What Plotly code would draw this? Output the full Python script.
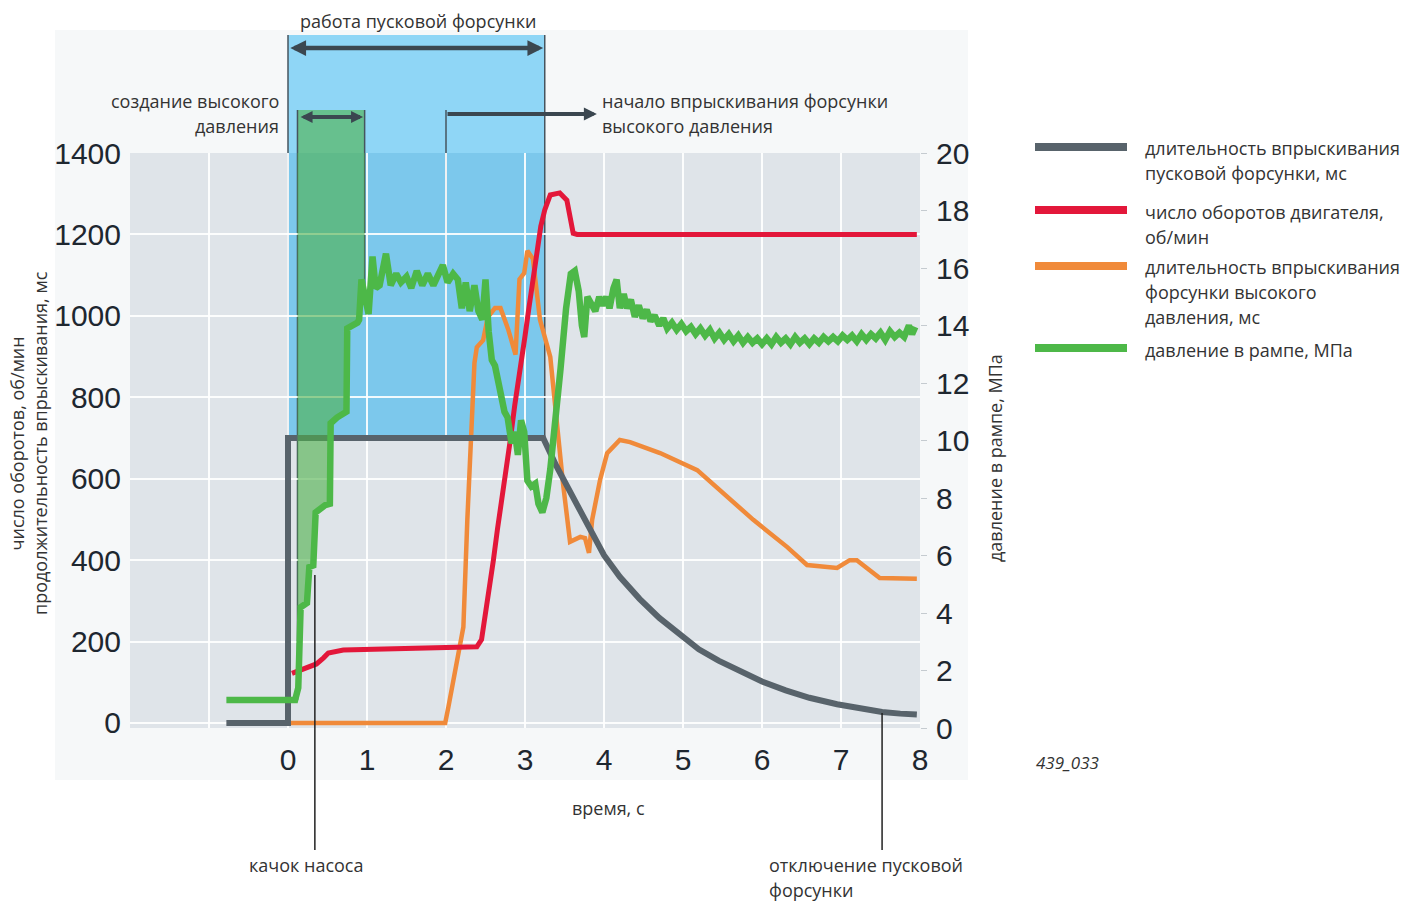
import plotly.graph_objects as go

# ---------------- data ----------------
# starter injector injection duration (left axis)
gray_t = [-0.78, 0.0, 0.0, 3.23, 3.40, 3.60, 3.80, 4.00, 4.20, 4.45, 4.70, 4.95, 5.20, 5.45,
          5.70, 6.00, 6.30, 6.60, 6.95, 7.25, 7.52, 7.75, 7.96]
gray_v = [0, 0, 700, 700, 630, 556, 480, 412, 359, 305, 258, 218, 181, 153,
          128, 102, 80, 62, 46, 35, 27, 23, 21]

# engine speed, rpm (left axis)
red_t = [0.05, 0.36, 0.45, 0.51, 0.70, 1.42, 2.01, 2.39, 2.45, 2.50, 2.56, 2.60, 2.65, 2.70,
         2.76, 2.81, 2.87, 2.94, 3.00, 3.05, 3.10, 3.15, 3.20, 3.25, 3.32, 3.44, 3.53, 3.61,
         3.66, 7.96]
red_v = [122, 145, 160, 172, 179, 182, 185, 187, 205, 270, 334, 400, 474, 540,
         610, 690, 780, 865, 950, 1020, 1090, 1160, 1220, 1260, 1297, 1302, 1284, 1203,
         1200, 1200]

# high pressure injector injection duration (left axis)
orange_t = [0.02, 1.99, 2.03, 2.09, 2.15, 2.22, 2.27, 2.33, 2.36, 2.39, 2.47, 2.53, 2.62, 2.69,
            2.79, 2.88, 2.93, 2.99, 3.03, 3.10, 3.19, 3.32, 3.40, 3.48, 3.57, 3.70, 3.76, 3.81,
            3.85, 3.95, 4.04, 4.20, 4.33, 4.71, 5.18, 5.47, 5.89, 6.32, 6.57, 6.95, 7.11, 7.20,
            7.49, 7.96]
orange_v = [0, 0, 39, 106, 172, 236, 499, 744, 884, 923, 940, 997, 1019, 1019,
            965, 905, 1090, 1105, 1160, 1140, 990, 899, 744, 590, 445, 457, 454, 418,
            499, 597, 663, 695, 690, 663, 621, 572, 499, 432, 388, 381, 400, 400,
            356, 354]

# rail pressure, MPa (right axis): (time s, pressure MPa)
green_points = [
    (-0.78, 0.97), (0.09, 0.97), (0.13, 1.4), (0.145, 2.5), (0.16, 4.2), (0.24, 4.35), (0.27, 5.6),
    (0.32, 5.65), (0.35, 7.5), (0.47, 7.75), (0.53, 7.8), (0.54, 10.6), (0.62, 10.8), (0.74, 11.0),
    (0.75, 13.9), (0.88, 14.1), (0.90, 14.2), (0.93, 15.6), (0.96, 15.2), (0.99, 14.6), (1.02, 14.4),
    (1.07, 16.4), (1.11, 15.3), (1.16, 15.4), (1.24, 16.5), (1.30, 15.4), (1.37, 15.8), (1.43, 15.5),
    (1.50, 15.7), (1.56, 15.3), (1.63, 15.9), (1.70, 15.4), (1.77, 15.8), (1.84, 15.4), (1.90, 15.7),
    (1.96, 16.1), (2.02, 15.5), (2.09, 15.8), (2.15, 15.6), (2.20, 14.6), (2.25, 15.5), (2.30, 14.5),
    (2.36, 15.4), (2.41, 14.5), (2.46, 14.2), (2.50, 15.6), (2.54, 13.8), (2.58, 12.8), (2.62, 12.6),
    (2.66, 12.0), (2.70, 11.4), (2.74, 11.0), (2.78, 10.8), (2.83, 9.9), (2.87, 10.3), (2.91, 9.5),
    (2.95, 10.7), (2.99, 10.3), (3.03, 8.6), (3.08, 8.4), (3.13, 8.5), (3.17, 7.8), (3.22, 7.5),
    (3.27, 8.0), (3.32, 9.0), (3.38, 10.5), (3.45, 12.5), (3.52, 14.6), (3.58, 15.8), (3.63, 15.9),
    (3.68, 15.2), (3.72, 14.0), (3.75, 13.6), (3.79, 15.0), (3.84, 14.7), (3.89, 14.5), (3.94, 15.0),
    (3.98, 14.7), (4.03, 15.0), (4.07, 14.6), (4.12, 15.3), (4.16, 15.6), (4.20, 14.6), (4.25, 15.1),
    (4.29, 14.6), (4.34, 14.9), (4.39, 14.3), (4.44, 14.7), (4.49, 14.25), (4.54, 14.55),
    (4.59, 14.15), (4.64, 14.35), (4.70, 14.0), (4.75, 14.25), (4.80, 13.9), (4.86, 14.1),
    (4.92, 13.85), (4.98, 14.05), (5.04, 13.8), (5.10, 13.95), (5.16, 13.7), (5.22, 13.9),
    (5.28, 13.65), (5.34, 13.85), (5.40, 13.55), (5.46, 13.75), (5.52, 13.5), (5.58, 13.7),
    (5.64, 13.45), (5.70, 13.65), (5.76, 13.4), (5.82, 13.6), (5.88, 13.4), (5.94, 13.55),
    (6.00, 13.35), (6.06, 13.55), (6.12, 13.35), (6.18, 13.6), (6.24, 13.4), (6.30, 13.55),
    (6.36, 13.35), (6.42, 13.6), (6.48, 13.4), (6.54, 13.55), (6.60, 13.35), (6.66, 13.55),
    (6.72, 13.4), (6.78, 13.6), (6.84, 13.45), (6.90, 13.6), (6.96, 13.45), (7.02, 13.65),
    (7.08, 13.5), (7.14, 13.65), (7.20, 13.45), (7.26, 13.7), (7.32, 13.5), (7.38, 13.7),
    (7.44, 13.55), (7.50, 13.75), (7.56, 13.5), (7.62, 13.8), (7.68, 13.6), (7.74, 13.75),
    (7.80, 13.6), (7.86, 14.0), (7.90, 13.7), (7.94, 13.95),
]
green_t = [p[0] for p in green_points]
green_v = [p[1] for p in green_points]

x_ticks = [-1, 0, 1, 2, 3, 4, 5, 6, 7, 8]
x_ticktext = ["", "0", "1", "2", "3", "4", "5", "6", "7", "8"]
y_ticks = [0, 200, 400, 600, 800, 1000, 1200, 1400]
y2_ticks = [0, 2, 4, 6, 8, 10, 12, 14, 16, 18, 20]

legend_names = [
    ["длительность впрыскивания", "пусковой форсунки, мс"],
    ["число оборотов двигателя,", "об/мин"],
    ["длительность впрыскивания", "форсунки высокого", "давления, мс"],
    ["давление в рампе, МПа"],
]

# phases (seconds)
starter_on, starter_off = 0.0, 3.25
pressure_build = (0.12, 0.97)
hp_start = 2.0
pump_mark = 0.34
starter_cut = 7.52

# ---------------- styling / geometry ----------------
W, H = 1416, 902
L, R, T, B = 130, 920, 153, 728
Y_MIN, Y_MAX = -12.3, 1400

C_GRAY = "#58636b"
C_RED = "#e3173a"
C_ORANGE = "#f08a3a"
C_GREEN = "#4db848"
C_DARK = "#3b4750"
TXT = "#333333"
FONT = "Open Sans"
NUMFONT = "Liberation Sans, Arial"
NUMCOL = "#1e2730"


def X(px):
    return (px - L) / (R - L)


def Y(py):
    return (B - py) / (B - T)


def YV(v):
    return (v - Y_MIN) / (Y_MAX - Y_MIN)


fig = go.Figure()

# green "pressure build-up" area, bounded on the right by the pressure trace
pump_pts = [(t, v) for t, v in green_points if 0.16 <= t <= 0.96]
poly_t = [pressure_build[0], pressure_build[1], pressure_build[1]] + [p[0] for p in reversed(pump_pts)] + [pressure_build[0]]
poly_v = [20, 20, 15.2] + [p[1] for p in reversed(pump_pts)] + [pump_pts[0][1]]
fig.add_trace(go.Scatter(x=poly_t, y=poly_v, yaxis="y2", fill="toself", mode="lines",
                         line=dict(width=0), fillcolor="rgba(77,176,74,0.6)",
                         hoverinfo="skip", showlegend=False))

fig.add_trace(go.Scatter(x=green_t, y=green_v, yaxis="y2", mode="lines", name="давление в рампе, МПа",
                         line=dict(color=C_GREEN, width=6.5), showlegend=False))
fig.add_trace(go.Scatter(x=orange_t, y=orange_v, mode="lines",
                         name="длительность впрыскивания форсунки высокого давления, мс",
                         line=dict(color=C_ORANGE, width=4.5), showlegend=False))
fig.add_trace(go.Scatter(x=gray_t, y=gray_v, mode="lines",
                         name="длительность впрыскивания пусковой форсунки, мс",
                         line=dict(color=C_GRAY, width=6), showlegend=False))
fig.add_trace(go.Scatter(x=red_t, y=red_v, mode="lines", name="число оборотов двигателя, об/мин",
                         line=dict(color=C_RED, width=5), showlegend=False))

shapes = []
# outer light panel and plot background
shapes.append(dict(type="rect", xref="paper", yref="paper", x0=X(55), x1=X(968), y0=Y(780), y1=Y(30),
                   fillcolor="#f6f8f9", line=dict(width=0), layer="below"))
shapes.append(dict(type="rect", xref="paper", yref="paper", x0=0, x1=1, y0=0, y1=1,
                   fillcolor="#dfe4e9", line=dict(width=0), layer="below"))
# starter injector working window (blue)
shapes.append(dict(type="rect", xref="x", yref="paper", x0=starter_on, x1=starter_off, y0=1, y1=Y(35),
                   fillcolor="#8fd6f6", line=dict(width=0), layer="below"))
shapes.append(dict(type="rect", xref="x", yref="paper", x0=starter_on, x1=starter_off, y0=YV(700), y1=1,
                   fillcolor="#7cc8ec", line=dict(width=0), layer="below"))
# pressure build-up window above plot top
shapes.append(dict(type="rect", xref="x", yref="paper", x0=pressure_build[0], x1=pressure_build[1],
                   y0=1, y1=Y(110), fillcolor="rgba(77,176,74,0.6)", line=dict(width=0), layer="below"))
# thin border lines
thin = dict(color="#46545e", width=1.5)
for xv, y0, y1 in [(starter_on, YV(700), Y(35)), (starter_off, YV(700), Y(35)),
                   (pressure_build[0], Y(700), Y(110)), (pressure_build[1], Y(290), Y(110)),
                   (hp_start, Y(723), Y(110))]:
    shapes.append(dict(type="line", xref="x", yref="paper", x0=xv, x1=xv, y0=y0, y1=y1,
                       line=thin, layer="below"))
# callout lines
for xv, y0, y1 in [(pump_mark, Y(850), Y(575)), (starter_cut, Y(850), Y(713))]:
    shapes.append(dict(type="line", xref="x", yref="paper", x0=xv, x1=xv, y0=y0, y1=y1,
                       line=dict(color="#222222", width=1.5)))

# legend bars
leg_colors = [C_GRAY, C_RED, C_ORANGE, C_GREEN]
leg_bar_y = [147, 210, 266, 348]
leg_text_y = [148, 212, 267, 350]
for c, by in zip(leg_colors, leg_bar_y):
    shapes.append(dict(type="line", xref="paper", yref="paper", x0=X(1035), x1=X(1127), y0=Y(by), y1=Y(by),
                       line=dict(color=c, width=8)))

ann = []


def text(s, px, py, anchor="center", size=18, angle=0):
    ann.append(dict(text=s, xref="paper", yref="paper", x=X(px), y=Y(py), xanchor=anchor, yanchor="middle",
                    showarrow=False, textangle=angle, font=dict(family=FONT, size=size, color=TXT)))


for lines, ty in zip(legend_names, leg_text_y):
    for i, ln in enumerate(lines):
        text(ln, 1143, ty + 25 * i, anchor="left")

text("работа пусковой форсунки", 418, 21)
text("создание высокого", 281, 101, anchor="right")
text("давления", 281, 126, anchor="right")
text("начало впрыскивания форсунки", 600, 101, anchor="left")
text("высокого давления", 600, 126, anchor="left")
text("время, с", 608, 808)
text("качок насоса", 306, 865)
text("отключение пусковой", 767, 865, anchor="left")
text("форсунки", 767, 890, anchor="left")
text("<i>439_033</i>", 1034, 762, anchor="left", size=17)
text("число оборотов, об/мин<br>продолжительность впрыскивания, мс", 28, 443, angle=-90)
text("давление в рампе, МПа", 995, 458, angle=-90)


def arrow(x_tip, x_tail, py, both, w, size):
    ann.append(dict(text="", x=x_tip, y=Y(py), xref="x", yref="paper", ax=x_tail, ay=0,
                    axref="x", ayref="pixel", showarrow=True, arrowhead=2, arrowsize=size,
                    arrowwidth=w, arrowcolor=C_DARK, arrowside="end+start" if both else "end",
                    startarrowhead=2, startarrowsize=size, standoff=0, startstandoff=0))


arrow(starter_off - 0.02, starter_on + 0.01, 48, True, 4.5, 0.7)
arrow(pressure_build[1] - 0.02, pressure_build[0] + 0.02, 117, True, 4, 0.6)
arrow(3.91, hp_start, 114, False, 4, 0.65)

axis_font = dict(family=NUMFONT, size=30, color=NUMCOL)
fig.update_layout(
    width=W, height=H, autosize=False,
    margin=dict(l=L, r=W - R, t=T, b=H - B, pad=0),
    paper_bgcolor="white", plot_bgcolor="rgba(0,0,0,0)",
    showlegend=False,
    shapes=shapes, annotations=ann,
    xaxis=dict(range=[-2, 8], tickvals=x_ticks, ticktext=x_ticktext, showgrid=True,
               gridcolor="rgba(255,255,255,0.9)", gridwidth=1.5, zeroline=False, showline=False,
               ticks="", ticklabelstandoff=11, tickfont=axis_font),
    yaxis=dict(range=[Y_MIN, Y_MAX], tickvals=y_ticks, ticktext=[str(v) for v in y_ticks], showgrid=True,
               gridcolor="rgba(255,255,255,0.9)", gridwidth=1.5, zeroline=False, showline=False,
               ticks="", ticklabelstandoff=8, tickfont=axis_font),
    yaxis2=dict(range=[0, 20], overlaying="y", side="right", tickvals=y2_ticks,
                ticktext=[str(v) for v in y2_ticks], showgrid=False, zeroline=False, showline=False,
                ticks="outside", ticklen=6, tickcolor="#c5cbd0", ticklabelstandoff=3,
                tickfont=axis_font),
)

fig.write_html("out.html", config={"displayModeBar": False},
               post_script="document.body.style.margin='0';")
